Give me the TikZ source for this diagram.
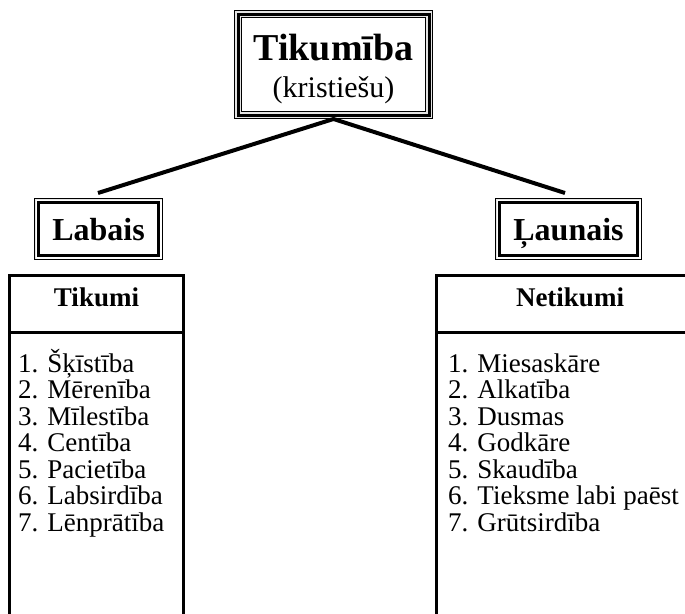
\documentclass[tikz,border=0pt]{standalone}
\usepackage{fontspec}
\setmainfont{Liberation Serif}
\usepackage{xcolor}
\usetikzlibrary{positioning}
\definecolor{gapgray}{HTML}{E4E4E4}

\tikzset{
  tripleframe/.style={draw, line width=8pt, inner sep=0pt,
    postaction={draw=gapgray, line width=6pt},
    postaction={draw, line width=3pt}},
  sideframe/.style={draw, line width=3pt, inner sep=0pt,
    minimum height=53pt, text height=22pt, text depth=0pt,
    font=\fontsize{32}{36}\selectfont\bfseries},
  outerline/.style={draw, line width=1pt},
  branch/.style={line width=4pt},
  tablebox/.style={line width=3pt},
  tablehead/.style={anchor=base, inner sep=0pt,
    font=\fontsize{27}{30}\selectfont\bfseries},
  listitem/.style={anchor=base west, inner sep=0pt,
    font=\fontsize{27}{30}\selectfont}
}

\begin{document}
\begin{tikzpicture}[x=1pt, y=-1pt]
    \useasboundingbox (0,0) rectangle (685,613);

    % top frame
    \node[tripleframe, minimum width=191pt, minimum height=101pt] (top) at (333.5,64.5) {};
    \node[anchor=base, inner sep=0pt, font=\fontsize{38}{40}\selectfont\bfseries]
      (title) at (333.5,60) {Tikumība};
    \node[anchor=base, inner sep=0pt, font=\fontsize{30}{34}\selectfont]
      (subtitle) at (333.5,97) {(kristiešu)};

    % the two sides
    \node[sideframe, minimum width=120pt] (labais) at (98.5,229) {Labais};
    \node[sideframe, minimum width=138pt] (launais) at (568.5,229) {Ļaunais};
    \foreach \n in {labais, launais}
      \draw[outerline, gapgray] ([shift={(-2,-2)}]\n.north west) rectangle ([shift={(2,2)}]\n.south east);
    \foreach \n in {labais, launais}
      \draw[outerline] ([shift={(-2.5,-2.5)}]\n.north west) rectangle ([shift={(2.5,2.5)}]\n.south east);

    \coordinate (lend) at (98,193);
    \coordinate (rend) at (565,193);
    \draw[branch] (lend) -- (top.south) -- (rend);

    % tables, open at the bottom of the page
    \draw[tablebox] (9.5,620) -- (9.5,275.5) -- (183.5,275.5) -- (183.5,620);
    \draw[tablebox] (9.5,332) -- (183.5,332);
    \draw[tablebox] (436.5,620) -- (436.5,275.5) -- (700,275.5);
    \draw[tablebox] (436.5,332) -- (700,332);

    \node[tablehead] (tikumi) at (96.5,306) {Tikumi};
    \node[tablehead] (netikumi) at (570,306) {Netikumi};

    \foreach \i/\t in {1/Šķīstība, 2/Mērenība, 3/Mīlestība, 4/Centība,
                       5/Pacietība, 6/Labsirdība, 7/Lēnprātība}
      \node[listitem] (tik\i) at (18,{372+(\i-1)*26.5}) {\i. \t};
    \foreach \i/\t in {1/Miesaskāre, 2/Alkatība, 3/Dusmas, 4/Godkāre,
                       5/Skaudība, 6/Tieksme labi paēst, 7/Grūtsirdība}
      \node[listitem] (net\i) at (448,{372+(\i-1)*26.5}) {\i. \t};
\end{tikzpicture}
\end{document}
